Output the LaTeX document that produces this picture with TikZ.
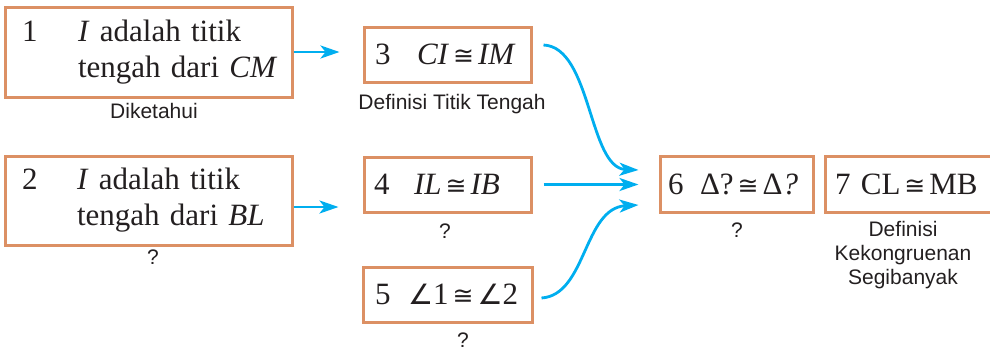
\documentclass[tikz,border=0pt]{standalone}
\usepackage{fontspec}
\setmainfont{Liberation Serif}
\setsansfont{Liberation Sans}
\newfontfamily\symf{DejaVu Sans}
\usetikzlibrary{arrows.meta}
\definecolor{boxc}{HTML}{DC9064}
\definecolor{arrc}{HTML}{00AEEF}
\definecolor{txtc}{HTML}{231F20}
\newcommand\cng{\hspace{4pt}{\symf\fontsize{25}{25}\selectfont ≅}\hspace{4pt}}
\newcommand\ang{{\symf\fontsize{28}{28}\selectfont ∠}}
\begin{document}
\begin{tikzpicture}[x=1pt,y=-1pt,
  stepbox/.style={draw=boxc, line width=3pt, fill=white, rectangle, align=left,
    anchor=center, inner ysep=0pt, text=txtc, font=\fontsize{31}{36}\selectfont},
  lbl/.style={font=\sffamily\fontsize{21}{24}\selectfont, text=txtc, anchor=base, inner sep=0pt},
  arr/.style={draw=arrc, line width=2.8pt, -{Stealth[length=19pt,width=13pt,inset=5pt]}},
]
\useasboundingbox (0,0) rectangle (990,351);

% boxes
\node[stepbox, minimum width=287pt, minimum height=90pt, inner xsep=17pt, text width=253pt] (b1) at (148.5,52)
  {\mbox{\makebox[56pt][l]{1}\textit{I} adalah titik}\\\mbox{\hspace*{56pt}tengah dari \textit{CM}}};
\node[stepbox, minimum width=287pt, minimum height=89pt, inner xsep=17pt, text width=253pt] (b2) at (148.5,200.5)
  {\mbox{\makebox[55pt][l]{2}\textit{I} adalah titik}\\\mbox{\hspace*{55pt}tengah dari \textit{BL}}};
\node[stepbox, minimum width=167pt, minimum height=55pt, inner xsep=11pt, text width=145pt] (b3) at (447.5,54.5)
  {\mbox{\makebox[42pt][l]{3}\textit{CI}\cng\textit{IM}}};
\node[stepbox, minimum width=167pt, minimum height=55pt, inner xsep=10pt, text width=147pt] (b4) at (447.5,184.5)
  {\mbox{\makebox[40pt][l]{4}\textit{IL}\cng\textit{IB}}};
\node[stepbox, minimum width=169pt, minimum height=55pt, inner xsep=12pt, text width=145pt] (b5) at (447.5,294.5)
  {\mbox{\makebox[33pt][l]{5}\ang1\cng\ang2}};
\node[stepbox, minimum width=153pt, minimum height=56pt, inner xsep=8pt, text width=137pt] (b6) at (736.5,184)
  {\mbox{\makebox[32pt][l]{6}Δ?\cng Δ\textit{?}}};
\node[stepbox, minimum width=175pt, minimum height=56pt, inner xsep=10pt, text width=155pt] (b7) at (912.5,184)
  {\mbox{7 CL\cng MB}};

% labels
\node[lbl] (l1) at (154,118) {Diketahui};
\node[lbl] (l2) at (153,264) {?};
\node[lbl] (l3) at (452,109) {Definisi Titik Tengah};
\node[lbl] (l4) at (445,238) {?};
\node[lbl] (l5) at (463,347) {?};
\node[lbl] (l6) at (737,237) {?};
\node[lbl] (l7a) at (903,236) {Definisi};
\node[lbl] (l7b) at (903,260) {Kekongruenan};
\node[lbl] (l7c) at (903,284) {Segibanyak};

% connectors
\draw[arr, shorten >=23pt] (b1.east) -- (b1.east -| b3.west);
\draw[arr, shorten >=24pt] ([yshift=-6.5pt]b2.east) -- ([yshift=-6.5pt]b2.east -| b4.west);
\draw[arr, shorten <=11pt, shorten >=20pt] (b4.east) -- (b4.east -| b6.west);
\draw[arr] ([shift={(11pt,9.5pt)}]b3.east) .. controls +(48,2) and +(-50,-2) .. ([shift={(-20pt,14pt)}]b6.west);
\draw[arr] ([shift={(8pt,-3.5pt)}]b5.east) .. controls +(45,-3) and +(-55,3) .. ([shift={(-20pt,-21pt)}]b6.west);
\end{tikzpicture}
\end{document}
